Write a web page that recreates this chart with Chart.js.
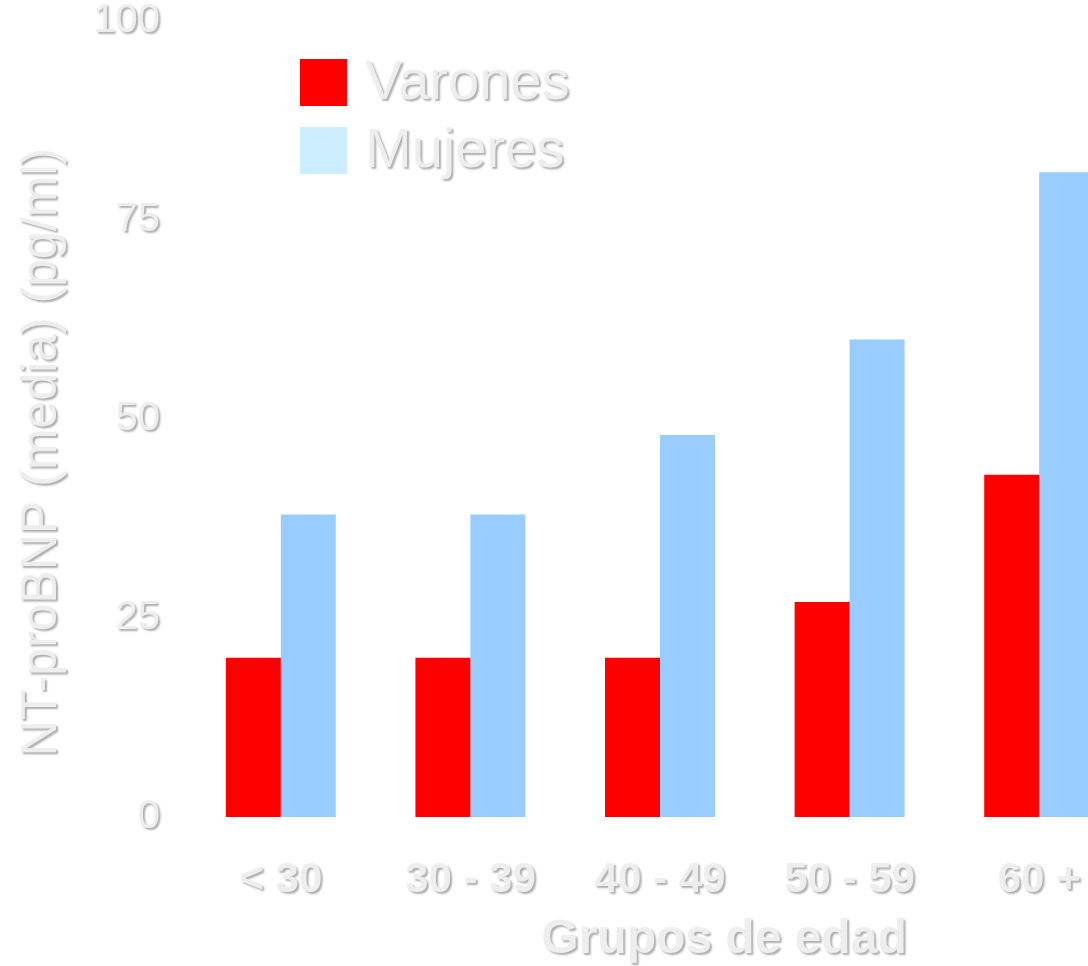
<!DOCTYPE html>
<html>
<head>
<meta charset="utf-8">
<title>NT-proBNP por grupos de edad</title>
<script src="https://cdn.jsdelivr.net/npm/chart.js@4"></script>
<style>
html, body { margin: 0; padding: 0; background: #fff; overflow: hidden; }
#wrap { position: relative; width: 1134px; height: 966px; }
</style>
</head>
<body>
<div id="wrap"><canvas id="bar-chart"></canvas></div>
<script>
// data
const grupos = ['< 30', '30 - 39', '40 - 49', '50 - 59', '60 +'];
const varones = [20, 20, 20, 27, 43];
const mujeres = [38, 38, 48, 60, 81];
const yTicks = [0, 25, 50, 75, 100];
const series = ['Varones', 'Mujeres'];
const barColors = ['#ff0000', '#99ccff'];
const keyColors = ['#ff0000', '#cceeff'];

const FONT = '"Liberation Sans", Arial, Helvetica, sans-serif';
const TEXT = '#eeeeee';

// light text with a soft grey drop shadow, only on text
const embossText = {
  id: 'embossText',
  beforeDraw(chart) {
    const ctx = chart.ctx;
    if (ctx.__emboss) return;
    const fill = ctx.fillText;
    ctx.fillText = function(t, x, y, w) {
      this.save();
      this.shadowColor = 'rgba(0,0,0,0.32)';
      this.shadowOffsetX = 2;
      this.shadowOffsetY = 2;
      this.shadowBlur = 2;
      if (w === undefined) fill.call(this, t, x, y);
      else fill.call(this, t, x, y, w);
      this.restore();
    };
    ctx.__emboss = true;
  }
};

// legend inside the plot + axis titles
const captions = {
  id: 'captions',
  afterDraw(chart) {
    const ctx = chart.ctx;
    const a = chart.chartArea;
    ctx.save();
    ctx.textBaseline = 'middle';
    ctx.textAlign = 'left';
    ctx.font = '56px ' + FONT;
    chart.data.datasets.forEach((ds, i) => {
      const x = a.left + 114, y = a.top + 38 + i * 68;
      ctx.fillStyle = keyColors[i];
      ctx.fillRect(x, y, 47, 47);
      ctx.fillStyle = TEXT;
      ctx.fillText(ds.label, x + 65, y + 25);
    });

    ctx.fillStyle = TEXT;
    ctx.textAlign = 'center';
    ctx.font = 'bold 48px ' + FONT;
    ctx.fillText('Grupos de edad', 724, 940);

    ctx.translate(42, 452);
    ctx.rotate(-Math.PI / 2);
    ctx.font = '50px ' + FONT;
    ctx.fillText('NT-proBNP (media) (pg/ml)', 0, 0);
    ctx.restore();
  }
};

new Chart(document.getElementById('bar-chart'), {
  type: 'bar',
  data: {
    labels: grupos,
    datasets: [
      { label: series[0], data: varones, backgroundColor: barColors[0] },
      { label: series[1], data: mujeres, backgroundColor: barColors[1] }
    ]
  },
  options: {
    responsive: true,
    maintainAspectRatio: false,
    animation: false,
    categoryPercentage: 0.58,
    barPercentage: 1,
    layout: { padding: { top: 21, left: 0, right: 0, bottom: 0 } },
    plugins: {
      legend: { display: false },
      title: { display: false },
      tooltip: { enabled: false }
    },
    scales: {
      x: {
        grid: { display: false, drawTicks: false },
        border: { display: false },
        ticks: {
          color: TEXT,
          font: { family: FONT, size: 42, weight: 'bold' },
          padding: 38,
          maxRotation: 0,
          autoSkip: false
        },
        afterFit(s) { s.height = 149; }
      },
      y: {
        min: 0,
        max: 100,
        afterBuildTicks(s) { s.ticks = yTicks.map(v => ({ value: v })); },
        // tick marks hidden, their length only spaces the labels
        grid: { display: false, drawTicks: true, tickLength: 26 },
        border: { display: false },
        ticks: {
          color: TEXT,
          font: { family: FONT, size: 40, lineHeight: 1 },
          padding: 0
        },
        afterFit(s) { s.width = 186; }
      }
    }
  },
  plugins: [embossText, captions]
});
</script>
</body>
</html>
